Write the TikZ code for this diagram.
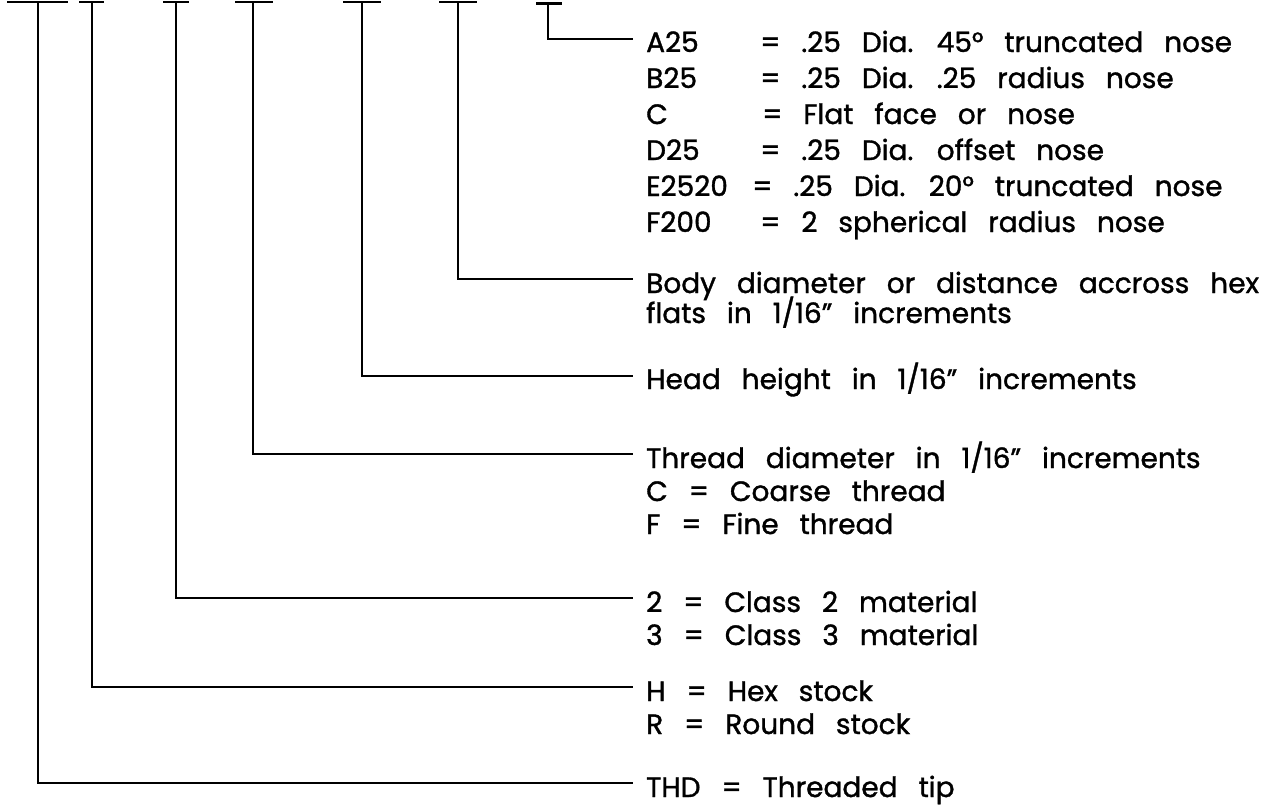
\documentclass[tikz,border=0pt]{standalone}
\usepackage{fontspec}
\setmainfont{Poppins}[WordSpace=2.8, FakeBold=1.2, Numbers=Monospaced]
\begin{document}
\begin{tikzpicture}[x=1pt,y=-1pt,
  lbl/.style={anchor=base west, inner sep=0pt, font=\fontsize{28}{30}\selectfont},
  ln/.style={line width=2.2pt, line cap=butt},
  gap/.style={xshift=-13pt}]
\useasboundingbox (0,0) rectangle (1268,806);
% labels
\node[lbl] (a1) at (646,52) {A25};   \node[lbl] (a2) at (760,52) {= .25 Dia. 45° truncated nose};
\node[lbl] (b1) at (646,88) {B25};   \node[lbl] (b2) at (760,88) {= .25 Dia. .25 radius nose};
\node[lbl] (cc1) at (646,124) {C};   \node[lbl] (cc2) at (762,124) {= Flat face or nose};
\node[lbl] (d1) at (646,160) {D25};  \node[lbl] (d2) at (760,160) {= .25 Dia. offset nose};
\node[lbl] (ee1) at (646,196) {E2520}; \node[lbl] (ee2) at (752,196) {= .25 Dia. 20° truncated nose};
\node[lbl] (f1) at (646,232) {F200}; \node[lbl] (f2) at (760,232) {= 2 spherical radius nose};
\node[lbl] (body) at (646,293) {Body diameter or distance accross hex};
\node[lbl] (flats) at (646,323) {flats in 1/16” increments};
\node[lbl] (head) at (646,389) {Head height in 1/16” increments};
\node[lbl] (thread) at (646,468) {Thread diameter in 1/16” increments};
\node[lbl] (coarse) at (646,501) {C = Coarse thread};
\node[lbl] (fine) at (646,534) {F = Fine thread};
\node[lbl] (cl2) at (646,612) {2 = Class 2 material};
\node[lbl] (cl3) at (646,645) {3 = Class 3 material};
\node[lbl] (hex) at (646,701) {H = Hex stock};
\node[lbl] (round) at (646,734) {R = Round stock};
\node[lbl] (thd) at (646,797) {THD = Threaded tip};
% T bars and leaders
\coordinate (t1) at (38,2);  \coordinate (c1) at (38,783);
\coordinate (t2) at (92,2);  \coordinate (c2) at (92,687);
\coordinate (t3) at (176,2); \coordinate (c3) at (176,598);
\coordinate (t4) at (253,2); \coordinate (c4) at (253,454);
\coordinate (t5) at (362,2); \coordinate (c5) at (362,376);
\coordinate (t6) at (458,2); \coordinate (c6) at (458,279);
\coordinate (t7) at (548,3.5); \coordinate (c7) at (548,39);
\draw[ln] (7,2) -- (68,2);
\draw[ln] (79,2) -- (104,2);
\draw[ln] (163,2) -- (189,2);
\draw[ln] (235,2) -- (273,2);
\draw[ln] (343,2) -- (381,2);
\draw[ln] (439,2) -- (477,2);
\draw[ln] (536,3.5) -- (562,3.5);
\draw[ln] (t1) -- (c1) -- ([gap]c1 -| thd.west);
\draw[ln] (t2) -- (c2) -- ([gap]c2 -| hex.west);
\draw[ln] (t3) -- (c3) -- ([gap]c3 -| cl2.west);
\draw[ln] (t4) -- (c4) -- ([gap]c4 -| thread.west);
\draw[ln] (t5) -- (c5) -- ([gap]c5 -| head.west);
\draw[ln] (t6) -- (c6) -- ([gap]c6 -| body.west);
\draw[ln] (t7) -- (c7) -- ([gap]c7 -| a1.west);
\end{tikzpicture}
\end{document}
